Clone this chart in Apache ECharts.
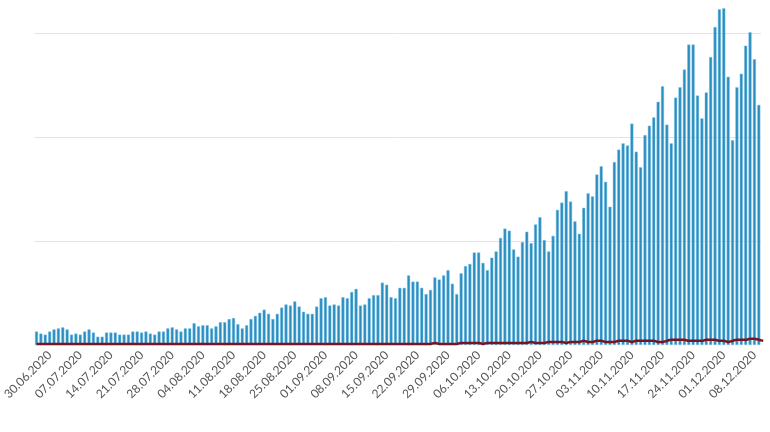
<!DOCTYPE html>
<html><head><meta charset="utf-8">
<script src="https://cdn.jsdelivr.net/npm/echarts@6/dist/echarts.min.js"></script>
<style>html,body{margin:0;padding:0;background:#fff}#chart{width:770px;height:432px}</style>
</head><body><div id="chart"></div>
<script>
var startDate = new Date(2020, 5, 27);
var cases = [
 13,11,10,13,15,16,17,15,10,11,10,13,15,12,8,8,12,12,12,10,10,10,13,13,12,13,11,10,13,13,16,17,15,13,16,16,21,18,19,19,16,
 18,22,22,25,26,20,16,19,25,28,31,34,30,25,30,36,39,38,42,37,32,30,30,37,45,46,38,39,38,46,45,51,54,38,39,45,48,48,60,58,46,45,55,55,
 67,61,61,55,49,53,65,63,67,72,59,49,69,76,78,89,89,79,72,84,90,103,112,110,92,85,99,109,98,116,123,101,90,105,130,137,
 148,138,119,107,132,146,143,164,172,157,133,176,188,194,192,213,186,171,202,211,219,234,249,212,194,238,248,265,289,289,240,218,243,277,306,323,324,258,197,248,261,288,301,275,231
];
var deaths = [
 1,1,1,1,1,1,1,1,1,1,1,1,1,1,1,1,1,1,1,1,1,1,1,1,1,1,1,1,1,1,1,1,1,1,1,1,1,1,1,1,1,
 1,1,1,1,1,1,1,1,1,1,1,1,1,1,1,1,1,1,1,1,1,1,1,1,1,1,1,1,1,1,1,1,1,1,1,1,1,1,1,1,1,1,1,1,1,
 1,1,1,1,1,2,1,1,1,1,1,2,2,2,2,2,1,2,2,2,2,2,2,2,2,2,2,3,2,2,2,3,3,3,3,2,
 3,3,3,4,3,3,4,4,3,3,3,4,4,4,3,4,4,4,4,4,3,3,4,5,5,5,5,4,4,4,4,5,5,5,4,4,3,4,5,5,5,6,6,5,4
];
var dates = cases.map(function (v, i) {
  var d = new Date(startDate.getTime() + i * 86400000);
  return ('0' + d.getDate()).slice(-2) + '.' + ('0' + (d.getMonth() + 1)).slice(-2) + '.' + d.getFullYear();
});
var gridVals = [100, 200, 300];

var chart = echarts.init(document.getElementById('chart'));
chart.setOption({
  animation: false,
  grid: { left: 0, right: 9, top: 2, bottom: 87 },
  xAxis: {
    type: 'category', data: dates,
    axisLine: { show: false }, axisTick: { show: false },
    axisLabel: {
      rotate: 45, color: '#555', fontSize: 12, fontFamily: 'Lato', margin: 8,
      interval: function (i) { return (i - 3) % 7 === 0; }
    }
  },
  yAxis: { type: 'value', min: 0, max: 330, show: false, splitLine: { show: false } },
  series: [{
    type: 'bar', data: cases, barCategoryGap: '30%',
    itemStyle: { color: '#2a8dc0', borderColor: '#7cc3e6', borderWidth: 0.5 },
    markLine: {
      silent: true, symbol: 'none', label: { show: false },
      lineStyle: { color: '#e3e3e3', type: 'solid', width: 1 },
      data: gridVals.map(function (v) { return { yAxis: v }; }),
      z: 0
    }
  }, {
    type: 'line', data: deaths, smooth: true, showSymbol: false,
    lineStyle: { color: '#7a1420', width: 2.5 }, z: 5
  }]
});
</script></body></html>
